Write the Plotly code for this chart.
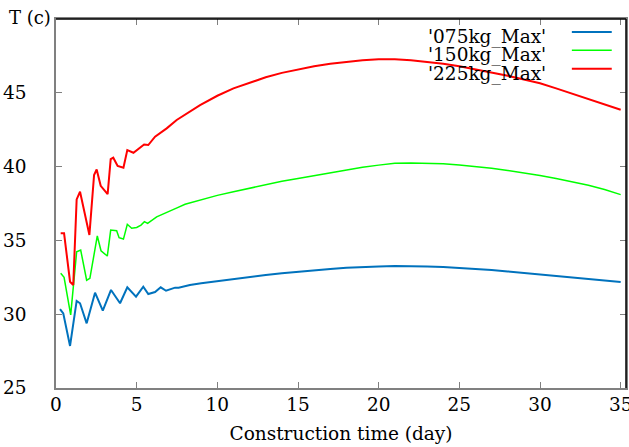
import plotly.graph_objects as go

# Maximum temperature histories for three cement contents
names = ["'075kg_Max'", "'150kg_Max'", "'225kg_Max'"]
colors = ["#0072bd", "#00ff00", "#ff0000"]
widths = [2, 1.5, 2]

t_075 = [0.25, 0.45, 0.87, 1.28, 1.49, 1.9, 2.42, 2.9, 3.41, 3.97, 4.42, 4.96, 5.41, 5.72,
         6.14, 6.49, 6.82, 7.38, 7.6, 8.3, 9, 10, 11, 12, 13, 14, 15, 16, 17, 18, 19, 20,
         21, 22, 23, 24, 25, 26, 27, 28, 29, 30, 31, 32, 33, 34, 35]
T_075 = [30.35, 30.06, 27.85, 30.9, 30.74, 29.38, 31.46, 30.24, 31.64, 30.74, 31.82, 31.19,
         31.86, 31.37, 31.5, 31.82, 31.59, 31.8, 31.8, 31.98, 32.1, 32.25, 32.4, 32.52, 32.65,
         32.77, 32.88, 32.98, 33.06, 33.14, 33.2, 33.24, 33.26, 33.26, 33.24, 33.2, 33.14,
         33.07, 32.99, 32.9, 32.8, 32.7, 32.6, 32.5, 32.4, 32.29, 32.18]

t_150 = [0.29, 0.5, 0.91, 1.28, 1.53, 1.9, 2.1, 2.56, 2.79, 3.18, 3.39, 3.76, 3.91, 4.18,
         4.42, 4.69, 5.0, 5.27, 5.48, 5.68, 6.24, 6.86, 7.5, 8, 9, 10, 11, 12, 13, 14, 15,
         16, 17, 18, 19, 20, 21, 22, 23, 24, 25, 26, 27, 28, 29, 30, 31, 32, 33, 34, 35]
T_150 = [32.77, 32.5, 29.95, 34.23, 34.35, 32.3, 32.43, 35.3, 34.3, 33.94, 35.7, 35.66, 35.18,
         35.09, 36.09, 35.82, 35.88, 36.04, 36.27, 36.15, 36.6, 36.88, 37.2, 37.45, 37.77,
         38.05, 38.3, 38.55, 38.78, 39.0, 39.2, 39.4, 39.6, 39.78, 39.95, 40.1, 40.22, 40.25,
         40.25, 40.2, 40.1, 40.0, 39.88, 39.74, 39.58, 39.4, 39.2, 38.98, 38.74, 38.45, 38.1]

t_225 = [0.29, 0.5, 0.87, 1.07, 1.28, 1.49, 2.07, 2.36, 2.52, 2.77, 3.2, 3.39, 3.55, 3.82,
         4.18, 4.42, 4.8, 5.17, 5.46, 5.72, 6.14, 6.86, 7.48, 8.93, 10, 11, 12, 13, 14, 15,
         16, 17, 18, 19, 20, 21, 22, 23, 24, 25, 26, 27, 28, 29, 30, 31, 32, 33, 34, 35]
T_225 = [35.48, 35.48, 32.2, 31.98, 37.78, 38.3, 35.37, 39.43, 39.8, 38.7, 38.14, 40.5, 40.6,
         40.04, 39.92, 41.12, 40.94, 41.24, 41.5, 41.46, 42.03, 42.59, 43.16, 44.17, 44.8,
         45.3, 45.7, 46.05, 46.35, 46.6, 46.8, 46.97, 47.1, 47.2, 47.28, 47.27, 47.2, 47.1,
         46.97, 46.8, 46.6, 46.38, 46.15, 45.9, 45.65, 45.3, 44.95, 44.6, 44.22, 43.85]

x_ticks = [0, 5, 10, 15, 20, 25, 30, 35]
y_ticks = [25, 30, 35, 40, 45, 50]
y_tick_text = ["25", "30", "35", "40", "45", ""]
y_title = "T (c)"
x_title = "Construction time (day)"

series = [(t_075, T_075), (t_150, T_150), (t_225, T_225)]

font = "DejaVu Serif"
fig = go.Figure()
for (t, T), name, c, w in zip(series, names, colors, widths):
    fig.add_trace(go.Scatter(x=t, y=T, mode="lines", name=name,
                             line=dict(color=c, width=w), showlegend=False))

axis_common = dict(showgrid=False, zeroline=False, ticks="inside", ticklen=6,
                   tickcolor="#808080", linecolor="#808080", linewidth=1.5,
                   showline=True, mirror="allticks", automargin=False,
                   ticklabeloverflow="allow",
                   tickfont=dict(family=font, size=18.5, color="black"))

fig.update_xaxes(range=[0, 35.33], tickvals=x_ticks, ticklabelstandoff=-1,
                 title=dict(text=x_title, font=dict(family=font, size=18.5, color="black"),
                            standoff=13),
                 **axis_common)
fig.update_yaxes(range=[25, 50], tickvals=y_ticks, ticktext=y_tick_text,
                 ticklabelstandoff=24, **axis_common)

# y-axis label at the top of the axis
fig.add_annotation(xref="paper", yref="paper", x=-0.005, y=1.005, text=y_title,
                   showarrow=False, xanchor="right", yanchor="middle",
                   font=dict(family=font, size=18, color="black"))

# top and right border drawn in black
fig.add_shape(type="line", xref="paper", yref="paper", x0=0, x1=1, y0=1, y1=1,
              line=dict(color="black", width=1.5))
fig.add_shape(type="line", xref="paper", yref="paper", x0=1, x1=1, y0=0, y1=1,
              line=dict(color="black", width=1.5))

# key: right-aligned labels with line samples to their right
for i, (name, c, w) in enumerate(zip(names, colors, widths)):
    yk = 0.965 - i * 0.05
    fig.add_annotation(xref="paper", yref="paper", x=0.864, y=yk, yshift=-5,
                       text=name, showarrow=False, xanchor="right", yanchor="middle",
                       font=dict(family=font, size=18.5, color="black"))
    fig.add_shape(type="line", xref="paper", yref="paper", x0=0.905, x1=0.975,
                  y0=yk, y1=yk, line=dict(color=c, width=w))

fig.update_layout(width=629, height=447, margin=dict(l=56, r=3, t=19, b=59),
                  plot_bgcolor="white", paper_bgcolor="white")
fig.write_html("out.html")
